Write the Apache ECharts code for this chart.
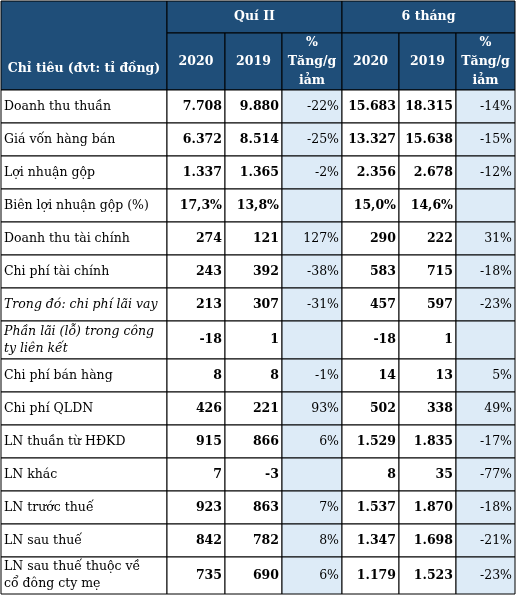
<!DOCTYPE html>
<html><head><meta charset="utf-8">
<script src="https://cdn.jsdelivr.net/npm/echarts@6/dist/echarts.min.js"></script>
<style>html,body{margin:0;padding:0;background:#fff}#c{width:516px;height:596px}</style>
</head><body><div id="c"></div>
<script>
const labels = ["Doanh thu thuần","Giá vốn hàng bán","Lợi nhuận gộp","Biên lợi nhuận gộp (%)","Doanh thu tài chính","Chi phí tài chính","Trong đó: chi phí lãi vay","Phần lãi (lỗ) trong công\nty liên kết","Chi phí bán hàng","Chi phí QLDN","LN thuần từ HĐKD","LN khác","LN trước thuế","LN sau thuế","LN sau thuế thuộc về\ncổ đông cty mẹ"];
const italicRows = [6,7];
const q2020 = ["7.708","6.372","1.337","17,3%","274","243","213","-18","8","426","915","7","923","842","735"];
const q2019 = ["9.880","8.514","1.365","13,8%","121","392","307","1","8","221","866","-3","863","782","690"];
const qPct  = ["-22%","-25%","-2%","","127%","-38%","-31%","","-1%","93%","6%","","7%","8%","6%"];
const h2020 = ["15.683","13.327","2.356","15,0%","290","583","457","-18","14","502","1.529","8","1.537","1.347","1.179"];
const h2019 = ["18.315","15.638","2.678","14,6%","222","715","597","1","13","338","1.835","35","1.870","1.698","1.523"];
const hPct  = ["-14%","-15%","-12%","","31%","-18%","-23%","","5%","49%","-17%","-77%","-18%","-21%","-23%"];
const groupHeaders = ["Quí II","6 tháng"];
const colHeaders = ["Chỉ tiêu (đvt: tỉ đồng)","2020","2019","%\nTăng/g\niảm","2020","2019","%\nTăng/g\niảm"];

// layout (pixel grid of the table)
const colEdges = [1,167,225,282,342,399,456,515];
const rowEdges = [90,123,156,189,222,255,288,321,359,392,425,458,491,524,557,594];
const headTop = 1, headMid = 33, headBot = 90;
const HEAD = '#1f4e79', PCT = '#ddebf7', FONT = 'DejaVu Serif';

const cells = [];
function cell(x0,x1,y0,y1,text,fill,color,bold,italic,align){cells.push([x0,x1,y0,y1,text,fill,color,bold?1:0,italic?1:0,align]);}
cell(colEdges[0],colEdges[1],headTop,headBot,'',HEAD,'#fff',1,0,'center');
cell(colEdges[1],colEdges[4],headTop,headMid,groupHeaders[0],HEAD,'#fff',1,0,'center');
cell(colEdges[4],colEdges[7],headTop,headMid,groupHeaders[1],HEAD,'#fff',1,0,'center');
cells.push([colEdges[0],colEdges[1],headMid+14,headBot,colHeaders[0],'none','#fff',1,0,'center',1]);
for(let c=1;c<7;c++) cell(colEdges[c],colEdges[c+1],headMid,headBot,colHeaders[c],HEAD,'#fff',1,0,'center');
const cols=[q2020,q2019,qPct,h2020,h2019,hPct];
labels.forEach((l,r)=>{
  const y0=rowEdges[r],y1=rowEdges[r+1];
  cell(colEdges[0],colEdges[1],y0,y1,l,'#fff','#000',0,italicRows.includes(r),'left');
  cols.forEach((arr,i)=>{
    const pct=(i===2||i===5);
    cell(colEdges[i+1],colEdges[i+2],y0,y1,arr[r],pct?PCT:'#fff','#000',!pct,0,'right');
  });
});

const chart=echarts.init(document.getElementById('c'));
chart.setOption({
  animation:false,
  grid:{left:0,right:0,top:0,bottom:0},
  xAxis:{type:'value',min:0,max:516,show:false},
  yAxis:{type:'value',min:0,max:596,inverse:true,show:false},
  series:[{type:'custom',data:cells,clip:false,
    renderItem:(p,api)=>{
      const d=cells[p.dataIndex];
      const a=api.coord([d[0],d[2]]),b=api.coord([d[1],d[3]]);
      const x=a[0],y=a[1],w=b[0]-a[0],h=b[1]-a[1];
      const tx=d[9]==='left'?x+3:d[9]==='right'?x+w-3:x+w/2;
      const children=[];
      if(d[5]!=='none') children.push({type:'rect',shape:{x:x,y:y,width:w,height:h},style:{fill:d[5],stroke:'#000',lineWidth:1}});
      children.push({type:'text',style:{x:tx,y:y+h/2,text:d[4],fill:d[6],align:d[9],verticalAlign:'middle',
        font:(d[8]?'italic ':'')+(d[7]?'bold ':'')+'12.5px "'+FONT+'"',lineHeight:d[5]===HEAD?19:17}});
      return {type:'group',children};
    }}]
});
</script></body></html>
